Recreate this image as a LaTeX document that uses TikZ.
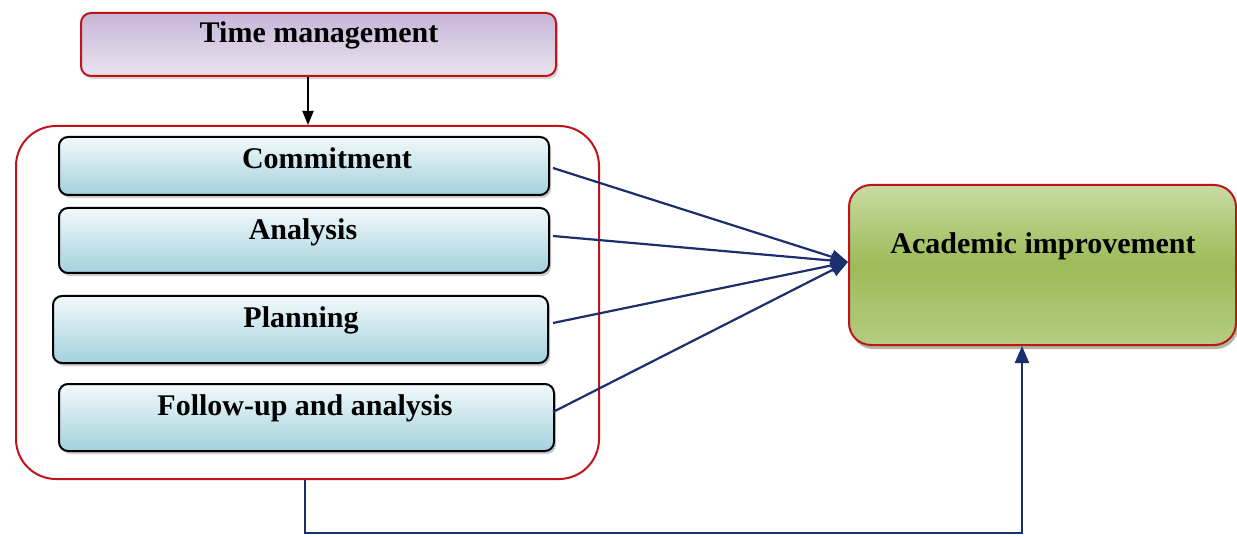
\documentclass[tikz,border=0pt]{standalone}
\usepackage{fontspec}
\setmainfont{Liberation Serif}
\usetikzlibrary{arrows.meta,shadows}
\definecolor{redline}{HTML}{C0141C}
\definecolor{navy}{HTML}{1A2F6B}
\definecolor{purpA}{HTML}{C6B6D8}
\definecolor{purpB}{HTML}{EAE4EF}
\definecolor{blueA}{HTML}{F2F9FB}
\definecolor{blueB}{HTML}{A3D1DD}
\definecolor{greenA}{HTML}{C8DBA3}
\definecolor{greenB}{HTML}{9CBB58}
\definecolor{greenC}{HTML}{B4CD82}
\definecolor{greenS}{HTML}{4F6228}
\begin{document}
\begin{tikzpicture}[x=1pt,y=-1pt,
  txt/.style={font=\fontsize{30}{34}\selectfont\bfseries, text=black, inner sep=0},
  topbox/.style={draw=redline, line width=2pt, rounded corners=10pt, anchor=north west,
    top color=purpA, bottom color=purpB,
    drop shadow={shadow xshift=2pt, shadow yshift=-3pt, opacity=0.35}},
  itembox/.style={draw=black, line width=2pt, rounded corners=9pt, anchor=north west,
    top color=blueA, bottom color=blueB,
    drop shadow={shadow xshift=2pt, shadow yshift=-3pt, opacity=0.4}},
  container/.style={draw=redline, line width=2pt, rounded corners=40pt, anchor=north west, fill=white},
  goalbox/.style={draw=redline, line width=2pt, rounded corners=22pt, anchor=north west,
    top color=greenA, bottom color=greenC, middle color=greenB,
    drop shadow={shadow xshift=2pt, shadow yshift=-4pt, opacity=0.45, fill=greenS}},
  navyarrow/.style={draw=navy, line width=2.2pt, -{Triangle[length=17pt,width=14pt]}},
  blackarrow/.style={draw=black, line width=1.8pt, -{Triangle[length=14pt,width=11pt]}}
]
\useasboundingbox (0,0) rectangle (1237,537);

% top box
\node[topbox, minimum width=475pt, minimum height=63pt] (tm) at (80,12) {};
\node[txt] (tmt) at (319,35) {Time management};

% container
\node[container, minimum width=583pt, minimum height=353pt] (ct) at (15,125) {};

% items
\node[itembox, minimum width=490pt, minimum height=58pt] (c1) at (58,136) {};
\node[txt] (c1t) at (327,158) {Commitment};
\node[itembox, minimum width=490pt, minimum height=65pt] (c2) at (58,207) {};
\node[txt] (c2t) at (303,232) {Analysis};
\node[itembox, minimum width=495pt, minimum height=67pt] (c3) at (52,295) {};
\node[txt] (c3t) at (301,320) {Planning};
\node[itembox, minimum width=495pt, minimum height=67pt] (c4) at (58,383) {};
\node[txt] (c4t) at (305,408) {Follow-up and analysis};

% goal
\node[goalbox, minimum width=387pt, minimum height=160pt] (ai) at (848,184) {};
\node[txt] (ait) at (1043,246) {Academic improvement};

\coordinate (hit) at (848,262);

% arrows
\draw[blackarrow] (tm.south -| 308,0) -- (ct.north -| 308,0);
\draw[navyarrow] (553,168) -- (hit);
\draw[navyarrow] (553,236) -- (hit);
\draw[navyarrow] (553,323) -- (hit);
\draw[navyarrow] (553,412) -- (hit);
\draw[navyarrow] (ct.south -| 305,0) -- (305,533) -- (1022,533) -- (ai.south -| 1022,0);
\end{tikzpicture}
\end{document}
